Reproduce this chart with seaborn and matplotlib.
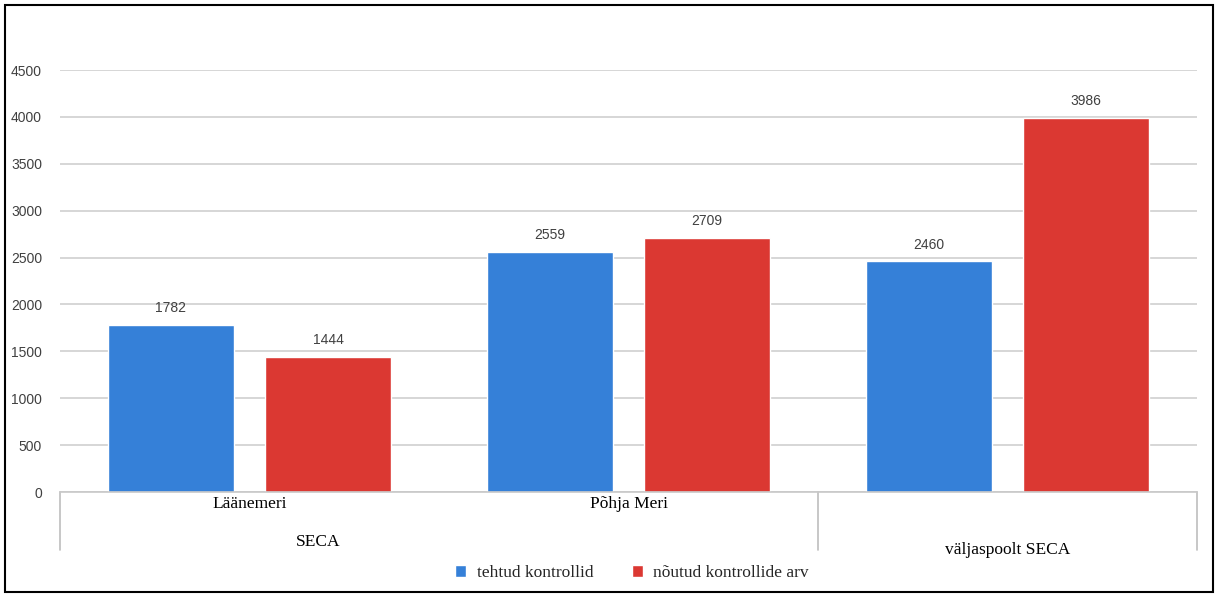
import matplotlib
matplotlib.use("Agg")
import matplotlib.pyplot as plt
import matplotlib.transforms as mtransforms
from matplotlib.patches import Rectangle
import pandas as pd
import seaborn as sns

# Data
regions = ["Läänemeri", "Põhja Meri", "väljaspoolt SECA"]
region_ticks = ["Läänemeri", "Põhja Meri", ""]
series_names = ["tehtud kontrollid", "nõutud kontrollide arv"]
done_checks = [1782, 2559, 2460]
required_checks = [1444, 2709, 3986]
y_ticks = [0, 500, 1000, 1500, 2000, 2500, 3000, 3500, 4000, 4500]
colors = ["#3580D8", "#DB3832"]

df = pd.DataFrame({
    "region": regions * 2,
    "series": [series_names[0]] * 3 + [series_names[1]] * 3,
    "value": done_checks + required_checks,
})

sns.set_theme(style="white")
plt.rcParams["font.family"] = ["Liberation Sans", "DejaVu Sans"]

W, H = 1218, 596
fig = plt.figure(figsize=(W / 100, H / 100), dpi=100)
ax = fig.add_axes([60 / W, 1 - 492 / H, (1197 - 60) / W, (492 - 70) / H])

sns.barplot(data=df, x="region", y="value", hue="series", order=regions,
            hue_order=series_names, palette=colors, width=0.83, gap=0.2,
            saturation=1, ax=ax, legend=True)

for cont in ax.containers:
    ax.bar_label(cont, fmt="%d", padding=7, fontsize=10, color="#404040")

ax.set_ylim(0, 4500)
ax.set_xlim(-0.5, 2.5)
ax.set_yticks(y_ticks)
ax.set_yticklabels([str(v) for v in y_ticks], fontsize=10, color="#404040")
ax.yaxis.grid(True, color="#D0D0D0", linewidth=1.2)
ax.set_axisbelow(True)
ax.tick_params(axis="y", length=0, pad=13)
ax.tick_params(axis="x", length=0, pad=3)
ax.set_xticks(range(len(regions)))
ax.set_xticklabels(region_ticks, fontsize=12.5, family="Liberation Serif", color="black")
ax.set_xlabel("")
ax.set_ylabel("")
for s in ["top", "right", "left"]:
    ax.spines[s].set_visible(False)
ax.spines["bottom"].set_color("#C8C8C8")
ax.spines["bottom"].set_linewidth(1.2)

# Two-level category axis: group separators and group labels
trans = mtransforms.blended_transform_factory(ax.transData, ax.transAxes)
y_low = -58 / 422
for xs in [-0.5, 1.5, 2.5]:
    ax.plot([xs, xs], [0, y_low], transform=trans, color="#BEBEBE",
            linewidth=1.2, clip_on=False)
ax.text(0.18, -50 / 422, "SECA", transform=trans, ha="center", va="center",
        fontsize=12.5, family="Liberation Serif", color="black")
ax.text(2.0, -58 / 422, "väljaspoolt SECA", transform=trans, ha="center",
        va="center", fontsize=12.5, family="Liberation Serif", color="black")

# Legend below the axis
handles, labels = ax.get_legend_handles_labels()
ax.get_legend().remove()
fig.legend(handles, labels, loc="center", bbox_to_anchor=(632 / W, 1 - 573 / H),
           ncol=2, frameon=False, handlelength=0.65, handleheight=0.65,
           handletextpad=0.6, columnspacing=2.2,
           prop={"family": "Liberation Serif", "size": 12.5})

# Outer frame
fig.patches.append(Rectangle((5 / W, 4 / H), 1208 / W, 587 / H,
                             transform=fig.transFigure, fill=False,
                             edgecolor="black", linewidth=1.5))

fig.savefig("out.png", dpi=100)
